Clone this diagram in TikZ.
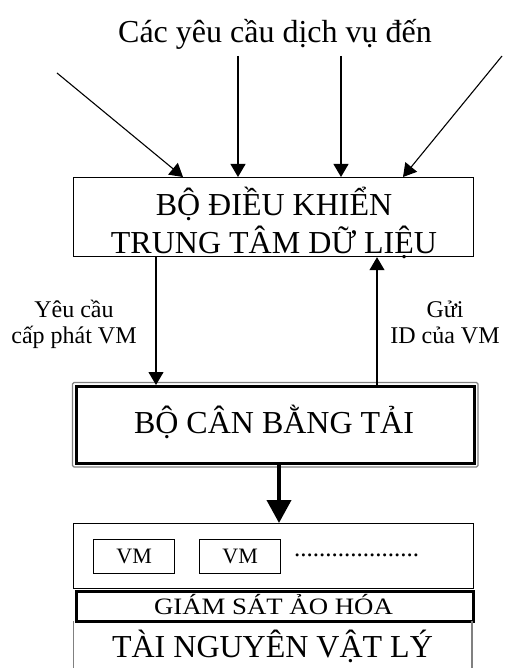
\documentclass[tikz,border=0pt]{standalone}
\usepackage{fontspec}
\setmainfont{Liberation Serif}
\usetikzlibrary{arrows.meta}

\begin{document}
\begin{tikzpicture}[x=1pt,y=-1pt,
  big/.style={font=\fontsize{32}{38}\selectfont, inner sep=0pt},
  mid/.style={font=\fontsize{23.5}{28}\selectfont\addfontfeature{FakeStretch=1.14}, inner sep=0pt},
  lab/.style={font=\fontsize{24}{26}\selectfont, inner sep=0pt},
  small/.style={font=\fontsize{22}{26}\selectfont, inner sep=0pt},
  box/.style={draw, line width=1.2pt, inner sep=0pt, anchor=north west},
  arr/.style={line width=1.1pt, -{Triangle[length=13pt,width=15pt]}},
  bigarr/.style={line width=4pt, -{Triangle[length=23pt,width=24pt]}}
]
\useasboundingbox (0,0) rectangle (504,668);

% heading
\node[big, anchor=base] (title) at (275,43) {Các yêu cầu dịch vụ đến};

% data centre controller
\node[box, minimum width=400pt, minimum height=79pt] (ctrl) at (73,177) {};
\node[big, anchor=base] (ctrlA) at (274,215) {BỘ ĐIỀU KHIỂN};
\node[big, anchor=base] (ctrlB) at (274,253) {TRUNG TÂM DỮ LIỆU};

% incoming requests
\coordinate (r1) at (57,73);
\coordinate (r2) at (238,56);
\coordinate (r3) at (341,56);
\coordinate (r4) at (502,56);
\draw[arr] (r1) -- ([xshift=110pt]ctrl.north west);
\draw[arr] (r2) -- ([xshift=165pt]ctrl.north west);
\draw[arr] (r3) -- ([xshift=268pt]ctrl.north west);
\draw[arr] (r4) -- ([xshift=330pt]ctrl.north west);

% load balancer (thick black frame with a thin grey outline)
\node[draw, line width=3pt, inner sep=0pt, anchor=north west,
      minimum width=397.5pt, minimum height=76.5pt] (lb) at (75,385) {};
\draw[gray, line width=1.2pt, rounded corners=1.5pt]
  ([shift={(-2.5,-2.5)}]lb.north west) rectangle ([shift={(2.5,2.5)}]lb.south east);
\node[big, anchor=base] (lbtext) at (274,433) {BỘ CÂN BẰNG TẢI};

% requests between controller and balancer
\draw[arr] ([xshift=83pt]ctrl.south west) -- ([xshift=81pt]lb.north west);
\draw[arr] ([xshift=302pt]lb.north west) -- ([xshift=304pt]ctrl.south west);
\node[lab, anchor=base] (req1) at (74,317) {Yêu cầu};
\node[lab, anchor=base] (req2) at (74,343) {cấp phát VM};
\node[lab, anchor=base] (ret1) at (445,317) {Gửi};
\node[lab, anchor=base] (ret2) at (445,343) {ID của VM};

% host: virtual machines
\node[box, minimum width=400pt, minimum height=65pt] (host) at (73,523) {};
\draw[bigarr] ([xshift=204pt]lb.south west) -- ([xshift=206pt]host.north west);
\node[box, minimum width=81pt, minimum height=34pt, small] (vm1) at (93,539) {};
\node[small, anchor=base] at (vm1.center |- 0,563) {VM};
\node[box, minimum width=81pt, minimum height=34pt, small] (vm2) at (199,539) {};
\node[small, anchor=base] at (vm2.center |- 0,563) {VM};
\node[font=\fontsize{25}{28}\selectfont, inner sep=0pt, anchor=base west] (dots) at (294,556)
  {....................};

% hypervisor
\node[draw, line width=3pt, inner sep=0pt, anchor=north west,
      minimum width=397pt, minimum height=30pt] (hyp) at (74.5,589.5) {};
\node[mid, anchor=base] (hyptext) at (273.5,614) {GIÁM SÁT ẢO HÓA};

% physical resources
\draw[gray, line width=1.8pt] (73.5,621) -- (73.5,668);
\draw[gray, line width=1.8pt] (472,621) -- (472,668);
\node[big, anchor=base] (res) at (272.5,657) {TÀI NGUYÊN VẬT LÝ};
\end{tikzpicture}
\end{document}
